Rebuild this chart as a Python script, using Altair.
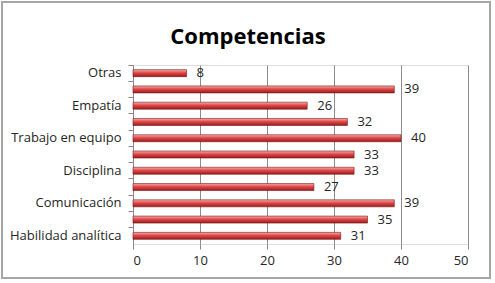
import altair as alt
import pandas as pd

categories = ["Otras", "Liderazgo", "Empatía", "Creatividad", "Trabajo en equipo",
              "Responsabilidad", "Disciplina", "Adaptabilidad", "Comunicación",
              "Resolución de problemas", "Habilidad analítica"]
values = [8, 39, 26, 32, 40, 33, 33, 27, 39, 35, 31]
shown_labels = ["Otras", "Empatía", "Trabajo en equipo", "Disciplina",
                "Comunicación", "Habilidad analítica"]
x_ticks = [0, 10, 20, 30, 40, 50]
title_text = ["Competencias"]

df = pd.DataFrame({"cat": categories, "val": values})

FONT = "Open Sans"
label_list = "[" + ",".join("'" + s + "'" for s in shown_labels) + "]"

y_enc = alt.Y("cat:N", sort=categories, title=None,
              scale=alt.Scale(paddingInner=0, paddingOuter=0),
              axis=alt.Axis(labelExpr=f"indexof({label_list}, datum.value) >= 0 ? datum.value : ''",
                            labelFont=FONT, labelFontSize=13, labelColor="#262626",
                            tickColor="#888888", tickSize=5, bandPosition=0,
                            domainColor="#888888", labelPadding=7, grid=False))
x_enc = alt.X("val:Q", title=None,
              scale=alt.Scale(domain=[0, 50], nice=False),
              axis=alt.Axis(values=x_ticks, labelFont=FONT, labelFontSize=13,
                            labelColor="#262626", tickColor="#888888", tickSize=5,
                            gridColor="#8c8c8c", domain=False, labelPadding=5))

grad = alt.Gradient(
    gradient="linear",
    stops=[alt.GradientStop(color="#f4b0b0", offset=0),
           alt.GradientStop(color="#e04848", offset=0.45),
           alt.GradientStop(color="#9a1c1c", offset=1)],
    x1=0, x2=0, y1=0, y2=1)

base = alt.Chart(df)
bars = base.mark_bar(size=7, color=grad, stroke="#7a1515", strokeWidth=0.6).encode(y=y_enc, x=x_enc)
text = base.mark_text(align="left", dx=10, font=FONT, fontSize=13, color="#262626").encode(
    y=alt.Y("cat:N", sort=categories), x="val:Q", text="val:Q")
frame = base.mark_rect(fill=None, stroke="#a6a6a6", strokeWidth=1.5).encode(
    x=alt.value(-131), x2=alt.value(357), y=alt.value(-63), y2=alt.value(213))
title = alt.Chart(pd.DataFrame({"t": title_text})).mark_text(
    font=FONT, fontSize=22, fontWeight="bold", color="#000000", align="center",
    baseline="alphabetic").encode(x=alt.value(115), y=alt.value(-21), text="t:N")

chart = alt.layer(frame, bars, text, title).properties(
    width=335, height=179,
    padding={"left": 133, "top": 65, "right": 27, "bottom": 39},
    autosize=alt.AutoSizeParams(type="none"),
).configure_view(stroke=None).configure(background="white")

chart.save("out.html", embed_options={"renderer": "svg", "actions": False})
